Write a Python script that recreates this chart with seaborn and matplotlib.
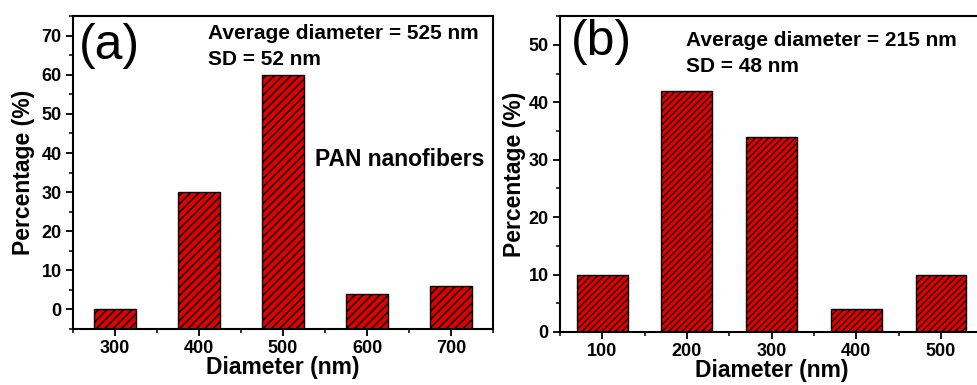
import matplotlib
matplotlib.use("Agg")
import matplotlib.pyplot as plt
from matplotlib.ticker import MultipleLocator
import seaborn as sns
import pandas as pd

# data
diam_a = [300, 400, 500, 600, 700]
pct_a = [0, 30, 60, 4, 6]
diam_b = [100, 200, 300, 400, 500]
pct_b = [10, 42, 34, 4, 10]

sns.set_style("ticks")
plt.rcParams["font.family"] = ["Liberation Sans", "DejaVu Sans"]
plt.rcParams["font.weight"] = "bold"
plt.rcParams["axes.labelweight"] = "bold"
plt.rcParams["text.color"] = "black"
plt.rcParams["axes.labelcolor"] = "black"
plt.rcParams["axes.edgecolor"] = "black"
plt.rcParams["xtick.color"] = "black"
plt.rcParams["ytick.color"] = "black"
plt.rcParams["hatch.linewidth"] = 1.1
plt.rcParams["hatch.color"] = "black"
plt.rcParams["axes.linewidth"] = 1.5
plt.rcParams["xtick.direction"] = "out"
plt.rcParams["ytick.direction"] = "out"

RED = "#e00000"

fig = plt.figure(figsize = (9.77, 3.85), dpi = 100)
ax1 = fig.add_axes([0.0747, 0.1455, 0.430, 0.8125])
ax2 = fig.add_axes([0.573, 0.1377, 0.4335, 0.8203])


def draw(ax, x, y, width, ylim, xlim, ypad, hatch, hatch_lw):
    df = pd.DataFrame({"d": x, "p": y})
    sns.barplot(data = df, x = "d", y = "p", native_scale = True, width = width,
                color = RED, saturation = 1, edgecolor = "black", linewidth = 1,
                hatch = hatch, ax = ax)
    # bars start at the bottom of the axis, as in the original
    for bar in ax.patches:
        top = bar.get_y() + bar.get_height()
        bar.set_y(ylim[0])
        bar.set_height(top - ylim[0])
        if hasattr(bar, "set_hatch_linewidth"):
            bar.set_hatch_linewidth(hatch_lw)
    ax.set_xlim(*xlim)
    ax.set_ylim(*ylim)
    ax.xaxis.set_major_locator(MultipleLocator(100))
    ax.xaxis.set_minor_locator(MultipleLocator(50))
    ax.yaxis.set_major_locator(MultipleLocator(10))
    ax.yaxis.set_minor_locator(MultipleLocator(5))
    ax.tick_params(which = "major", length = 5, width = 1.3, labelsize = 13, pad = 3)
    ax.tick_params(which = "minor", length = 3, width = 1.1)
    ax.set_xlabel("Diameter (nm)", fontsize = 16.5, labelpad = -1)
    ax.set_ylabel("Percentage (%)", fontsize = 16.5, labelpad = ypad)
    for s in ax.spines.values():
        s.set_visible(True)
        s.set_linewidth(1.5)


draw(ax1, diam_a, pct_a, 0.5, (-5, 75), (250, 750), 5, "////", 1.1)
draw(ax2, diam_b, pct_b, 0.6, (0, 55), (50, 550), 2, "/////", 0.9)

ax1.text(0.015, 0.904, "(a)", transform = ax1.transAxes, fontsize = 36,
         fontweight = "normal", va = "center", ha = "left")
ax1.text(0.321, 0.927, "Average diameter = 525 nm", transform = ax1.transAxes,
         fontsize = 15, va = "baseline")
ax1.text(0.321, 0.843, "SD = 52 nm", transform = ax1.transAxes,
         fontsize = 15, va = "baseline")
ax1.text(0.576, 0.521, "PAN nanofibers", transform = ax1.transAxes,
         fontsize = 16.5, va = "baseline")

ax2.text(0.026, 0.918, "(b)", transform = ax2.transAxes, fontsize = 36,
         fontweight = "normal", va = "center", ha = "left")
ax2.text(0.298, 0.905, "Average diameter = 215 nm", transform = ax2.transAxes,
         fontsize = 15, va = "baseline")
ax2.text(0.298, 0.823, "SD = 48 nm", transform = ax2.transAxes,
         fontsize = 15, va = "baseline")

fig.savefig("out.png", dpi = 100)
